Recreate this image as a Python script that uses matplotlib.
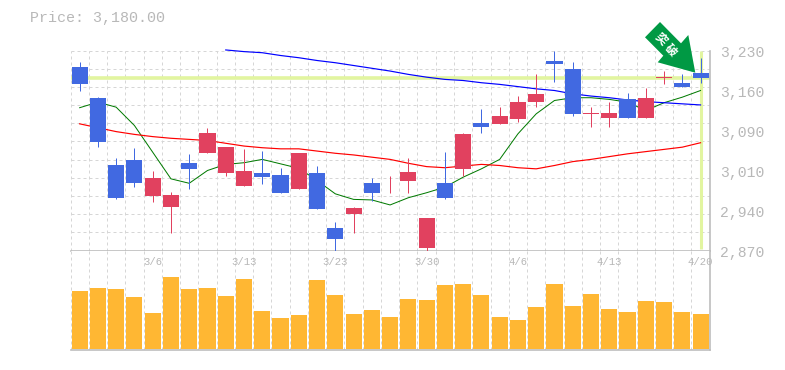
import numpy as np
import matplotlib
matplotlib.use("Agg")
import matplotlib.pyplot as plt
from matplotlib.patches import Polygon


W = 785
H = 370

date_labels = ["3/6", "3/13", "3/23", "3/30", "4/6", "4/13", "4/20"]
date_index = [4, 9, 14, 19, 24, 29, 34]
price_labels = ["3,230", "3,160", "3,090", "3,010", "2,940", "2,870"]
last_price = 3180

opens = [3201, 3145, 3023, 3032, 2969, 2949, 3027, 3046, 3010, 2987, 3010, 3005,
         2980, 3010, 2911, 2935, 2991, 3000, 2996, 2875, 2991, 3016, 3099, 3097,
         3106, 3138, 3212, 3196, 3115, 3109, 3142, 3109, 3180, 3172, 3190]
closes = [3169, 3066, 2965, 2992, 3001, 2969, 3016, 3082, 3057, 3014, 3003, 2974,
          3045, 2944, 2890, 2946, 2974, 3001, 3012, 2928, 2965, 3079, 3093, 3113,
          3138, 3151, 3205, 3115, 3117, 3118, 3108, 3145, 3183, 3165, 3180]
highs = [3210, 3147, 3037, 3055, 3014, 2976, 3043, 3090, 3057, 3052, 3050, 3019,
         3045, 3023, 2922, 2949, 3000, 3005, 3036, 2928, 3048, 3082, 3124, 3129,
         3149, 3187, 3230, 3210, 3129, 3138, 3153, 3162, 3194, 3187, 3217]
lows = [3158, 3057, 2962, 2985, 2958, 2901, 2980, 3045, 3005, 2987, 2989, 2974,
        2980, 2944, 2870, 2902, 2960, 2973, 2974, 2870, 2962, 3005, 3082, 3097,
        3102, 3129, 3174, 3113, 3093, 3093, 3108, 3108, 3169, 3165, 3172]

ma_short = [3127, 3137, 3128, 3095, 3047, 2999, 2991, 3014, 3025, 3028, 3034, 3026,
            3018, 2996, 2972, 2962, 2961, 2952, 2965, 2974, 2984, 3002, 3017, 3034,
            3080, 3116, 3140, 3145, 3145, 3142, 3137, 3122, 3136, 3146, 3158]
ma_mid = [3098, 3091, 3084, 3079, 3075, 3072, 3070, 3068, 3063, 3058, 3055, 3053,
          3053, 3049, 3045, 3042, 3038, 3034, 3027, 3021, 3019, 3022, 3025, 3023,
          3019, 3017, 3023, 3030, 3034, 3039, 3044, 3048, 3052, 3056, 3064]
# this one only starts at the 9th candle
ma_long = [None] * 8 + [3231, 3228, 3226, 3221, 3217, 3212, 3208, 3203, 3198, 3193,
                        3187, 3182, 3178, 3176, 3172, 3169, 3165, 3161, 3158, 3152,
                        3148, 3145, 3141, 3138, 3136, 3134, 3132]

volumes = [172, 181, 178, 154, 106, 214, 178, 181, 157, 208, 112, 91, 100, 205, 160,
           103, 115, 94, 148, 145, 190, 193, 160, 94, 85, 124, 193, 127, 163, 118,
           109, 142, 139, 109, 103]

BLUE = "#4169e1"
RED = "#e1415f"
ORANGE = "#ffb733"
HILITE = "#e2f5a0"
GRID = "#d6d6d6"
FRAME = "#bdbdbd"
TEXT = "#b8b8b8"
MONO = "Liberation Mono"
DASH = (0, (3, 3))


def px_axes(fig, left, top, right, bottom):
    return fig.add_axes([left / W, 1 - bottom / H, (right - left) / W, (bottom - top) / H])


def px_fig(x, y):
    return (x / W, 1 - y / H)


def style_panel(ax):
    n = len(opens)
    ax.set_xlim(-0.5, n - 0.5)
    ax.set_xticks(np.arange(-0.5, n, 1))
    ax.tick_params(length=0, labelbottom=False, labelleft=False, which="both")
    ax.grid(True, axis="x", color=GRID, lw=0.72, ls=DASH)
    ax.set_axisbelow(True)
    ax.spines["left"].set_visible(False)
    ax.spines["top"].set_visible(False)
    for s in ["right", "bottom"]:
        ax.spines[s].set_color(FRAME)
        ax.spines[s].set_linewidth(1.2)


fig = plt.figure(figsize=(W / 100, H / 100), dpi=100)
fig.patch.set_facecolor("white")

ax = px_axes(fig, 70.5, 50.5, 709.7, 250.5)
vol_ax = px_axes(fig, 70.5, 250.5, 709.7, 350.2)
style_panel(ax)
style_panel(vol_ax)

x = np.arange(len(opens))

# price panel
ax.set_ylim(2870, 3230)
ax.set_yticks(np.linspace(2870, 3230, 12))
ax.grid(True, axis="y", color=GRID, lw=0.72, ls=DASH)

ax.axhline(last_price, color=HILITE, lw=2.6, zorder=1.5)
ax.plot([x[-1], x[-1]], [2872, 3230], color=HILITE, lw=2.2, zorder=1.5, solid_capstyle="butt")

ax.plot(x, ma_short, color="#007a00", lw=0.72, zorder=2)
ax.plot(x, ma_mid, color="#ff0000", lw=0.85, zorder=2)
ma_long_arr = np.array(ma_long, dtype=float)
ax.plot(x, ma_long_arr, color="#0000ff", lw=0.85, zorder=2, clip_on=False)

colors = [BLUE if c < o else RED for o, c in zip(opens, closes)]
wicks = ax.vlines(x, lows, highs, colors=colors, lw=0.72, zorder=3)
wicks.set_snap(True)
body_low = [min(o, c) for o, c in zip(opens, closes)]
body_h = [abs(o - c) for o, c in zip(opens, closes)]
ax.bar(x, body_h, bottom=body_low, width=0.88, color=colors, lw=0, zorder=3)

for k, lab in enumerate(price_labels):
    ax.annotate(lab, xy=(1, 1 - k / (len(price_labels) - 1)), xycoords="axes fraction",
                xytext=(10.5, -2.5), textcoords="offset pixels", ha="left", va="center",
                fontsize=10.6, family=MONO, color=TEXT, annotation_clip=False)

# volume panel, the date labels sit on top of it
vol_ax.set_ylim(-5, 294)
vol_ax.set_yticks([])
vol_ax.bar(x, volumes, width=0.88, color=ORANGE, lw=0, zorder=2)

for i, lab in zip(date_index, date_labels):
    vol_ax.annotate(lab, xy=(i, 1), xycoords=("data", "axes fraction"), xytext=(0, -11.5),
                    textcoords="offset pixels", ha="center", va="center",
                    fontsize=7.7, family=MONO, color=TEXT, zorder=5, annotation_clip=False)

fig.text(30 / W, 1 - 18 / H, "Price: %s.00" % format(last_price, ","), ha="left", va="center",
         fontsize=10.8, family=MONO, color=TEXT)

# the green signal arrow over the last candles
arrow_px = [(660, 22), (645, 37.3), (663.3, 55.7), (657.7, 62.3), (695.3, 72.7),
            (688.3, 35), (681, 43.3)]
fig.add_artist(Polygon([px_fig(a, b) for a, b in arrow_px], closed=True, transform=fig.transFigure,
                       facecolor="#009944", edgecolor="none", zorder=6))
fig.text(660.7 / W, 1 - 39 / H, "突", rotation=-45, ha="center", va="center", fontsize=8.5,
         fontweight="bold", family=["Noto Sans CJK JP", "DejaVu Sans"], color="white", zorder=7)
fig.text(671 / W, 1 - 50 / H, "破", rotation=-45, ha="center", va="center", fontsize=8.5,
         fontweight="bold", family=["Noto Sans CJK JP", "DejaVu Sans"], color="white", zorder=7)

fig.savefig("out.png", dpi=100)
